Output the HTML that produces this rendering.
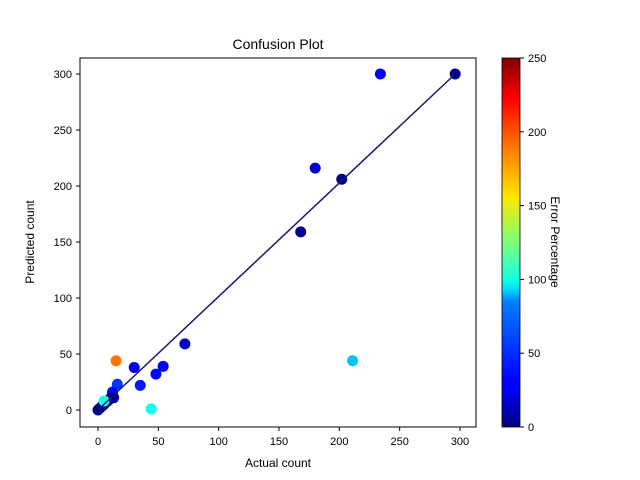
<!DOCTYPE html>
<html><head><meta charset="utf-8"><style>
body{margin:0;background:#fff}
svg{display:block;font-family:"Liberation Sans",sans-serif}
</style></head><body>
<svg id="chart" width="640" height="480">
<defs><linearGradient id="jet" x1="0" y1="1" x2="0" y2="0">
<stop offset="0" stop-color="#00007f"/><stop offset="0.11" stop-color="#0000ff"/>
<stop offset="0.125" stop-color="#0000ff"/><stop offset="0.34" stop-color="#0080ff"/>
<stop offset="0.375" stop-color="#00dfff"/><stop offset="0.4" stop-color="#16ffe1"/>
<stop offset="0.5" stop-color="#7cff79"/><stop offset="0.625" stop-color="#ffe600"/>
<stop offset="0.75" stop-color="#ff7f00"/><stop offset="0.89" stop-color="#ff0000"/>
<stop offset="1" stop-color="#7f0000"/></linearGradient></defs>
<text x="278" y="49" font-size="14" text-anchor="middle">Confusion Plot</text>
<g id="plot"></g>
<rect x="80" y="58" width="396" height="369" fill="none" stroke="#000"/>
<text x="278" y="467" font-size="12" text-anchor="middle">Actual count</text>
<text transform="translate(34,242) rotate(-90)" font-size="12" text-anchor="middle">Predicted count</text>
<rect x="502" y="58" width="18" height="369" fill="url(#jet)" stroke="#000" stroke-width="0.8"/>
<g id="cbticks"></g>
<text transform="translate(551,242) rotate(90)" font-size="12" text-anchor="middle">Error Percentage</text>
</svg>
<script>
const actual = [296,234,202,168,180,211,72,54,48,35,30,15,44,16,12,13,10,8,5,3,1,0,5];
const predicted = [300,300,206,159,216,44,59,39,32,22,38,44,1,23,16,11,10,8,5,3,1,0,8];
const errors = [1,28,2,5,20,79,18,28,33,37,27,190,98,44,33,15,0,0,0,0,0,0,100];
const xTicks = [0,50,100,150,200,250,300];
const yTicks = [0,50,100,150,200,250,300];
const cbTicks = [0,50,100,150,200,250];
const ns="http://www.w3.org/2000/svg";
const sx=v=>98+v*(362/300), sy=v=>410-v*(336/300), sc=v=>427-v*(369/250);
function jet(t){t=Math.max(0,Math.min(1,t));
 const f=x=>Math.max(0,Math.min(1,1.5-Math.abs(4*t-x)));
 return `rgb(${Math.round(255*f(3))},${Math.round(255*f(2))},${Math.round(255*f(1))})`;}
function mk(tag,a,p){const e=document.createElementNS(ns,tag);for(const k in a)e.setAttribute(k,a[k]);p.appendChild(e);return e;}
const svg=document.getElementById('chart'),plot=document.getElementById('plot'),cb=document.getElementById('cbticks');
xTicks.forEach(v=>{const x=sx(v);
 const l=mk('line',{x1:x,x2:x,y1:427,y2:431,stroke:'#000'},svg);
 
 
 const t=mk('text',{x:x,y:445,'font-size':11,'text-anchor':'middle'},svg);t.textContent=v;
 
 });
yTicks.forEach(v=>{const y=sy(v);
 const l=mk('line',{x1:76,x2:80,y1:y,y2:y,stroke:'#000'},svg);
 
 
 const t=mk('text',{x:72,y:y+4,'font-size':11,'text-anchor':'end'},svg);t.textContent=v;
 
 });
cbTicks.forEach(v=>{const y=sc(v);
 const l=mk('line',{x1:520,x2:524,y1:y,y2:y,stroke:'#000'},cb);
 
 
 const t=mk('text',{x:528,y:y+4,'font-size':11},cb);t.textContent=v;
 
 });
actual.forEach((a,i)=>{const c=mk('circle',{cx:sx(a),cy:sy(predicted[i]),r:5.5,fill:jet(errors[i]/250)},plot);
 
 });
const mx=Math.max(...actual);
const ln=mk('line',{x1:sx(0),y1:sy(0),x2:sx(mx),y2:sy(predicted[actual.indexOf(mx)]),stroke:'#191970','stroke-width':1.5},plot);


</script>
</body></html>
